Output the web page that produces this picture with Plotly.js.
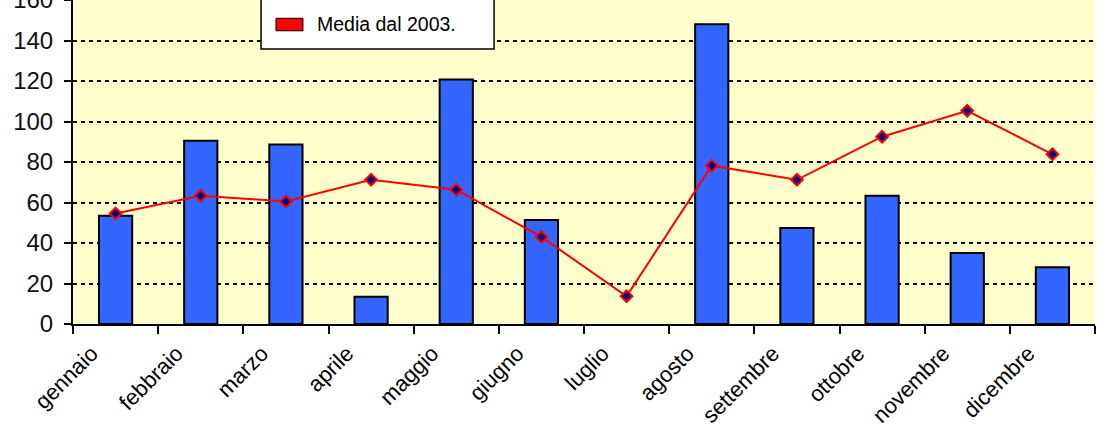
<!DOCTYPE html>
<html>
<head>
<meta charset="utf-8">
<script src="https://cdn.plot.ly/plotly-3.0.1.min.js"></script>
<style>
  html, body { margin: 0; padding: 0; background: #ffffff; }
  #chart { width: 1113px; height: 438px; }
</style>
</head>
<body>
<div id="chart"></div>
<script>
// ---- data ----
const mesi = ['gennaio', 'febbraio', 'marzo', 'aprile', 'maggio', 'giugno',
              'luglio', 'agosto', 'settembre', 'ottobre', 'novembre', 'dicembre'];
const pioggiaAnno = [53.4, 90.5, 88.6, 13.5, 120.8, 51.3, null, 148.0, 47.4, 63.3, 35.1, 28.0];
const mediaDal2003 = [54.6, 63.3, 60.5, 71.2, 66.3, 43.0, 13.7, 78.2, 71.2, 92.5, 105.3, 83.8];
const yTicks = [0, 20, 40, 60, 80, 100, 120, 140, 160];
const nomeMedia = 'Media dal 2003.';

const FONT = 'Arial, "Liberation Sans", sans-serif';

const traces = [
  {
    type: 'bar',
    x: mesi,
    y: pioggiaAnno,
    name: 'Anno',
    marker: { color: '#3366FF', line: { color: '#000000', width: 2 } },
    hoverinfo: 'x+y'
  },
  {
    type: 'scatter',
    mode: 'lines+markers',
    x: mesi,
    y: mediaDal2003,
    name: nomeMedia,
    line: { color: '#FF0000', width: 2 },
    marker: { symbol: 'diamond', size: 9, color: '#000080', line: { color: '#FF0000', width: 2 } }
  }
];

const layout = {
  width: 1113,
  height: 438,
  margin: { l: 73, r: 18, t: 0, b: 114, autoexpand: false },
  paper_bgcolor: '#FFFFFF',
  plot_bgcolor: '#FFFFCC',
  showlegend: false,
  bargap: 0.61,
  font: { family: FONT, color: '#000000' },
  xaxis: {
    type: 'category',
    categoryorder: 'array',
    categoryarray: mesi,
    range: [-0.5, 11.5],
    tickson: 'boundaries',
    ticks: 'outside',
    ticklen: 8,
    tickwidth: 2,
    tickcolor: '#000000',
    showline: true,
    linecolor: '#000000',
    linewidth: 2,
    showgrid: false,
    zeroline: false,
    tickangle: -45,
    ticklabelshift: -24,
    ticklabelstandoff: 6,
    tickfont: { family: FONT, size: 22, color: '#000000' },
    fixedrange: true
  },
  xaxis2: {
    overlaying: 'x',
    anchor: 'y',
    side: 'bottom',
    type: 'linear',
    range: [-0.5, 11.5],
    tick0: -0.5,
    dtick: 1,
    tickmode: 'linear',
    ticks: 'inside',
    ticklen: 8,
    tickwidth: 2,
    tickcolor: '#000000',
    showticklabels: false,
    showgrid: false,
    zeroline: false,
    showline: false,
    fixedrange: true
  },
  yaxis: {
    range: [0, 160],
    tickmode: 'array',
    tickvals: yTicks,
    ticktext: yTicks.map(String),
    ticks: 'outside',
    ticklen: 7,
    tickwidth: 2,
    tickcolor: '#000000',
    showline: true,
    linecolor: '#000000',
    linewidth: 2,
    showgrid: true,
    gridcolor: '#000000',
    gridwidth: 2,
    griddash: '4px,4px',
    zeroline: false,
    ticklabeloverflow: 'allow',
    ticklabelstandoff: 6,
    tickfont: { family: FONT, size: 24, color: '#111111' },
    fixedrange: true
  },
  yaxis2: {
    overlaying: 'y',
    anchor: 'x',
    side: 'left',
    range: [0, 160],
    tickmode: 'array',
    tickvals: yTicks,
    ticks: 'inside',
    ticklen: 7,
    tickwidth: 2,
    tickcolor: '#000000',
    showticklabels: false,
    showgrid: false,
    zeroline: false,
    showline: false,
    fixedrange: true
  },
  yaxis3: {
    overlaying: 'y',
    anchor: 'x',
    side: 'right',
    range: [0, 160],
    showline: true,
    linecolor: '#A0A0A0',
    linewidth: 2,
    ticks: '',
    showticklabels: false,
    showgrid: false,
    zeroline: false,
    fixedrange: true
  },
  shapes: [
    { type: 'rect', xref: 'paper', yref: 'paper',
      x0: 0.184, x1: 0.412, y0: 0.849, y1: 1.08,
      fillcolor: '#FFFFFF', line: { color: '#000000', width: 1.5 }, layer: 'above' },
    { type: 'rect', xref: 'paper', yref: 'paper',
      x0: 0.1986, x1: 0.2250, y0: 0.905, y1: 0.9435,
      fillcolor: '#FF0000', line: { color: '#000000', width: 1 }, layer: 'above' }
  ],
  annotations: [
    { xref: 'paper', yref: 'paper', x: 0.2370, y: 0.925,
      xanchor: 'left', yanchor: 'middle', showarrow: false,
      text: nomeMedia, font: { family: FONT, size: 19.5, color: '#000000' } }
  ]
};

Plotly.newPlot('chart', traces, layout, { displayModeBar: false, staticPlot: true });
</script>
</body>
</html>
